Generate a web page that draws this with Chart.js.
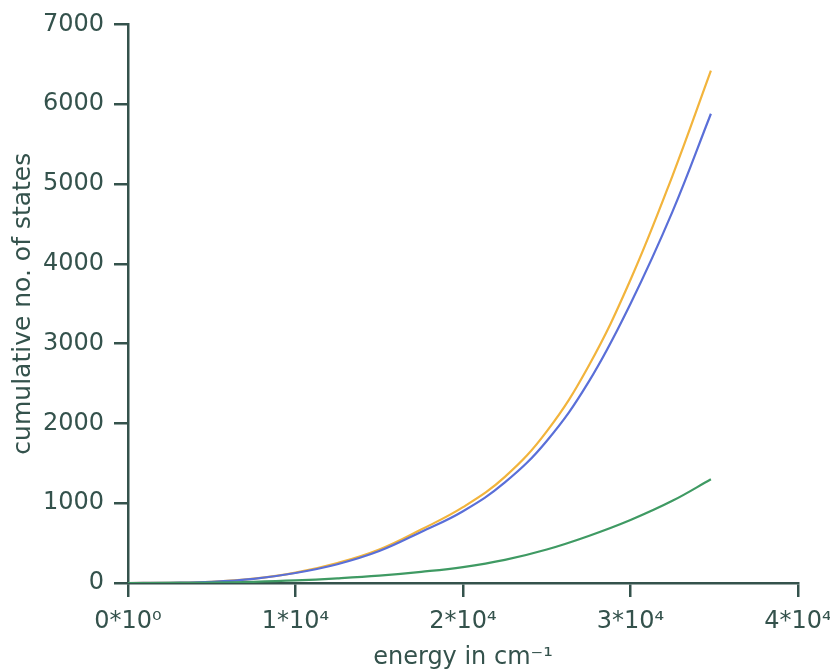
<!DOCTYPE html>
<html>
<head>
<meta charset="utf-8">
<script src="https://cdn.jsdelivr.net/npm/chart.js@4/dist/chart.umd.min.js"></script>
<style>
  html, body { margin: 0; padding: 0; background: #fff; }
  #wrap { width: 830px; height: 672px; }
</style>
</head>
<body>
<div id="wrap"><canvas id="stage" width="830" height="672"></canvas></div>
<script>
// energy (cm^-1) sample positions
var energy = [0, 2500, 5000, 7500, 10000, 12500, 15000, 17500, 20000, 22500, 25000, 27500, 30000, 32500, 34800];
var orangeStates = [0, 3, 15, 55, 130, 250, 420, 670, 950, 1330, 1900, 2720, 3800, 5100, 6420];
var blueStates   = [0, 3, 15, 52, 125, 235, 400, 640, 900, 1260, 1780, 2520, 3500, 4650, 5880];
var greenStates  = [0, 1, 5, 15, 32, 58, 92, 140, 200, 290, 420, 590, 790, 1030, 1300];

var xTicks = [0, 10000, 20000, 30000, 40000];
var xTickLabels = ['0*10\u2070', '1*10\u2074', '2*10\u2074', '3*10\u2074', '4*10\u2074'];
var yTicks = [0, 1000, 2000, 3000, 4000, 5000, 6000, 7000];

var ink = '#34524c';

function pts(ys) {
  return energy.map(function (e, i) { return { x: e, y: ys[i] }; });
}

function line(ys, color) {
  return {
    data: pts(ys),
    borderColor: color,
    backgroundColor: color,
    borderWidth: 2.2,
    pointRadius: 0,
    fill: false,
    tension: 0.4
  };
}

new Chart(document.getElementById('stage').getContext('2d'), {
  type: 'line',
  data: {
    datasets: [
      line(greenStates, '#3f9a63'),
      line(blueStates, '#5a6fd8'),
      line(orangeStates, '#f2b43c')
    ]
  },
  options: {
    responsive: false,
    animation: false,
    layout: { padding: { left: 0, right: 32, top: 23, bottom: 0 } },
    plugins: { legend: { display: false }, tooltip: { enabled: false } },
    scales: {
      x: {
        type: 'linear',
        min: 0,
        max: 40000,
        afterBuildTicks: function (s) { s.ticks = xTicks.map(function (v) { return { value: v }; }); },
        afterFit: function (s) { s.height = 89; s.paddingLeft = 0; s.paddingRight = 0; },
        border: { display: true, color: ink, width: 2.5 },
        grid: { drawOnChartArea: false, drawTicks: true, tickLength: 14, color: ink, lineWidth: 2.5 },
        ticks: {
          color: ink,
          padding: 10,
          maxRotation: 0,
          font: { family: 'DejaVu Sans', size: 24 },
          callback: function (v) { return xTickLabels[xTicks.indexOf(v)]; }
        },
        title: {
          display: true,
          text: 'energy in cm\u207B\u00B9',
          color: ink,
          padding: { top: 17, bottom: 0 },
          font: { family: 'DejaVu Sans', size: 24 }
        }
      },
      y: {
        type: 'linear',
        min: 0,
        max: 7000,
        afterBuildTicks: function (s) { s.ticks = yTicks.map(function (v) { return { value: v }; }); },
        afterFit: function (s) { s.width = 128; },
        border: { display: true, color: ink, width: 2.5 },
        grid: { drawOnChartArea: false, drawTicks: true, tickLength: 14, color: ink, lineWidth: 2.5 },
        ticks: {
          color: ink,
          padding: 10,
          font: { family: 'DejaVu Sans', size: 24 },
          callback: function (v) { return String(v); }
        },
        title: {
          display: true,
          text: 'cumulative no. of states',
          color: ink,
          padding: { top: 8, bottom: 0 },
          font: { family: 'DejaVu Sans', size: 25 }
        }
      }
    }
  }
});
</script>
</body>
</html>
